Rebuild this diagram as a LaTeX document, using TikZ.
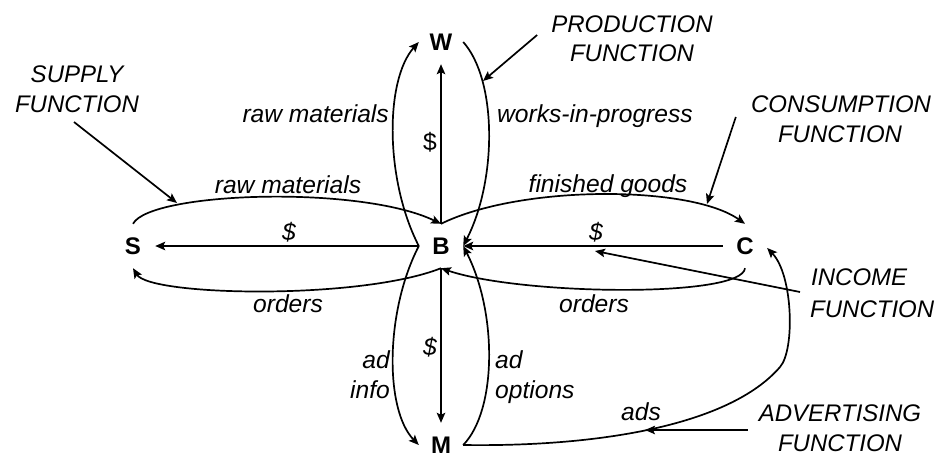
\documentclass[tikz,border=0pt]{standalone}
\usepackage{fontspec}
\setmainfont{Liberation Sans}
\usetikzlibrary{arrows.meta}
\begin{document}
\begin{tikzpicture}[x=1pt,y=-1pt,
  lw/.style={line width=1.7pt},
  arr/.style={lw,-{Stealth[length=10pt,width=8.5pt,inset=2pt]}},
  vtx/.style={circle,minimum size=44pt,inner sep=0pt,font=\fontsize{24}{29}\selectfont\bfseries},
  lbl/.style={inner sep=0pt,font=\fontsize{24.6}{29}\selectfont\itshape},
  fnl/.style={inner sep=0pt,font=\fontsize{24}{29}\selectfont\itshape},
  upl/.style={inner sep=0pt,font=\fontsize{24.6}{29}\selectfont},
]
\useasboundingbox (0,0) rectangle (944,456);
% main nodes
\node[vtx] (S) at (133,246) {S};
\node[vtx] (B) at (441,246) {B};
\node[vtx] (C) at (745,246) {C};
\node[vtx] (W) at (441,42) {W};
\node[vtx] (M) at (441,445) {M};
% S--B
\draw[arr] (S.north) .. controls +(17,-32) and +(-81,-39) .. (B.north);
\draw[arr] (B.south) .. controls +(-81,32) and +(17,28) .. (S.south);
\draw[arr] (B.west) -- (S.east);
% B--C
\draw[arr] (B.north) .. controls +(79,-39) and +(-55,-39) .. (C.north);
\draw[arr] (C.south) .. controls +(-3,30) and +(79,27) .. (B.south);
\draw[arr] (C.west) -- (B.east);
% B--W
\draw[arr] (B.west) .. controls +(-34,-66) and +(-34,38) .. (W.west);
\draw[arr] (W.east) .. controls +(34,38) and +(34,-66) .. (B.east);
\draw[arr] (B.north) -- (W.south);
% B--M
\draw[arr] (B.west) .. controls +(-34,66) and +(-34,-35) .. (M.west);
\draw[arr] (M.east) .. controls +(34,-35) and +(34,66) .. (B.east);
\draw[arr] (B.south) -- (M.north);
% M--C ads
\coordinate (adsMid) at (780,367);
\draw[arr] (M.east) .. controls +(137,2) and +(-50,58) .. (adsMid)
  .. controls +(15,-17) and +(26,27) .. (C.-5);
% flow labels
\node[lbl,anchor=base east] (rmW) at (389,122) {raw materials};
\node[upl,anchor=base] (dW) at (430,150) {\$};
\node[lbl,anchor=base west] (wip) at (497,122) {works-in-progress};
\node[lbl,anchor=base] (rmS) at (288,193) {raw materials};
\node[lbl,anchor=base] (fg) at (608,192) {finished goods};
\node[lbl,anchor=base] (dS) at (289,240) {\$};
\node[lbl,anchor=base] (dC) at (596,240) {\$};
\node[lbl,anchor=base] (oS) at (288,312) {orders};
\node[lbl,anchor=base] (oC) at (594,312) {orders};
\node[lbl,anchor=base east] (ai1) at (390,368) {ad};
\node[lbl,anchor=base east] (ai2) at (390,398) {info};
\node[lbl,anchor=base] (dM) at (430,355) {\$};
\node[lbl,anchor=base west] (ao1) at (495,368) {ad};
\node[lbl,anchor=base west] (ao2) at (495,398) {options};
\node[lbl,anchor=base] (ads) at (641,420) {ads};
% function labels
\node[fnl,anchor=base] (sup1) at (77,82) {SUPPLY};
\node[fnl,anchor=base] (sup2) at (77,112) {FUNCTION};
\node[fnl,anchor=base] (prod1) at (632,32) {PRODUCTION};
\node[fnl,anchor=base] (prod2) at (632,61) {FUNCTION};
\node[fnl,anchor=base] (cons1) at (841,112) {CONSUMPTION};
\node[fnl,anchor=base] (cons2) at (840,142) {FUNCTION};
\node[fnl,anchor=base west] (inc1) at (811,285) {INCOME};
\node[fnl,anchor=base west] (inc2) at (810,317) {FUNCTION};
\node[fnl,anchor=base] (adv1) at (840,421) {ADVERTISING};
\node[fnl,anchor=base] (adv2) at (840,451) {FUNCTION};
% function pointers
\coordinate (supT) at (177,203);
\coordinate (prodT) at (483,81);
\coordinate (consT) at (707,204);
\coordinate (incT) at (595,251);
\coordinate (advT) at (645,430);
\draw[arr] ([xshift=-3pt,yshift=-10pt]sup2.base) -- (supT);
\draw[arr] ([xshift=-14pt,yshift=-3pt]prod1.base west) -- (prodT);
\draw[arr] ([xshift=-15pt,yshift=-5pt]cons1.base west) -- (consT);
\draw[arr] ([xshift=-11pt,yshift=-7pt]inc1.base west) -- (incT);
\draw[arr] ([xshift=-11pt,yshift=-9pt]adv1.base west) -- (advT);
\end{tikzpicture}
\end{document}
